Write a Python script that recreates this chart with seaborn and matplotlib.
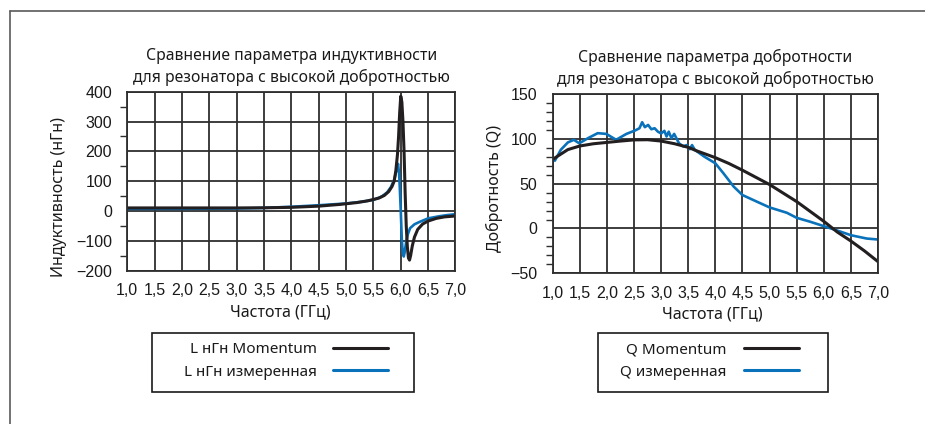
import numpy as np
import pandas as pd
import seaborn as sns
import matplotlib
matplotlib.use("Agg")
import matplotlib.pyplot as plt
from matplotlib.lines import Line2D
from matplotlib.patches import Rectangle
from matplotlib.ticker import MultipleLocator

# ---- inductance (nH) vs frequency (GHz) ----
l_mom_f = [1.0, 1.5, 2.0, 2.5, 3.0, 3.5, 4.0, 4.5, 4.9, 5.2, 5.4, 5.6, 5.7, 5.78,
           5.84, 5.88, 5.91, 5.94, 5.96, 5.98, 6.00, 6.02, 6.04, 6.06, 6.08, 6.10,
           6.12, 6.14, 6.16, 6.18, 6.21, 6.25, 6.31, 6.40, 6.50, 6.65, 6.80, 7.0]
l_mom_v = [10, 10, 10, 10, 10, 10.5, 12, 16, 22, 28, 34, 43, 52, 65,
           82, 100, 135, 190, 250, 330, 385, 365, 300, 200, 60, -50,
           -120, -158, -165, -150, -118, -88, -62, -44, -34, -25, -20, -17]

l_meas_f = [1.0, 2.0, 3.0, 3.5, 4.0, 4.5, 5.0, 5.3, 5.5, 5.65, 5.75, 5.82, 5.88,
            5.92, 5.95, 5.97, 5.98, 6.00, 6.02, 6.04, 6.055, 6.07, 6.10, 6.13,
            6.17, 6.25, 6.33, 6.50, 6.70, 6.85, 7.0]
l_meas_v = [7, 7, 8, 10, 14, 19, 25, 31, 37, 48, 62, 80, 105,
            135, 158, 125, 87, 0, -100, -145, -153, -140, -103, -78,
            -58, -45, -38, -25, -18, -14, -11]

# ---- quality factor Q vs frequency (GHz) ----
q_mom_f = [1.0, 1.1, 1.28, 1.5, 1.75, 2.0, 2.25, 2.5, 2.75, 3.0, 3.25, 3.5, 3.66,
           4.0, 4.25, 4.5, 4.75, 5.0, 5.25, 5.5, 5.75, 6.0, 6.25, 6.5, 6.75, 7.0]
q_mom_v = [77, 81, 88, 92, 94.5, 96, 97.5, 98.8, 99, 97.5, 94.5, 90.5, 86.5,
           79, 72.5, 65, 57, 49, 39.5, 30, 19, 8, -4, -14, -25, -37]

q_meas_f = [1.0, 1.04, 1.15, 1.28, 1.39, 1.49, 1.65, 1.83, 1.99, 2.17, 2.36, 2.52,
            2.6, 2.65, 2.70, 2.76, 2.82, 2.88, 2.94, 3.0, 3.06, 3.1, 3.14, 3.19,
            3.24, 3.33, 3.41, 3.47, 3.53, 3.57, 3.62, 3.66, 3.8, 4.0, 4.15, 4.34,
            4.5, 4.77, 5.0, 5.32, 5.5, 5.75, 6.0, 6.23, 6.5, 6.79, 7.0]
q_meas_v = [80, 75.6, 87.8, 96, 98.9, 95, 100.7, 106.3, 105.5, 98.9, 105.5, 109.3,
            111.8, 118.5, 113, 115.5, 110.7, 111.8, 108, 106, 108.9, 102.6, 108, 100.7,
            105.5, 95, 91.5, 93, 88.5, 93, 87.8, 86, 80, 72.7, 61.5, 46.6,
            37.3, 29.8, 23.5, 17.5, 11.9, 7.5, 2.6, -1.9, -7.5, -11.2, -12.3]

x_ticks = [1.0, 1.5, 2.0, 2.5, 3.0, 3.5, 4.0, 4.5, 5.0, 5.5, 6.0, 6.5, 7.0]
x_ticklabels = ["1,0", "1,5", "2,0", "2,5", "3,0", "3,5", "4,0", "4,5",
                "5,0", "5,5", "6,0", "6,5", "7,0"]

title_l = "Сравнение параметра индуктивности\nдля резонатора с высокой добротностью"
title_q = "Сравнение параметра добротности\nдля резонатора с высокой добротностью"
xlabel = "Частота (ГГц)"
ylabel_l = "Индуктивность (нГн)"
ylabel_q = "Добротность (Q)"
leg_l = ["L нГн Momentum", "L нГн измеренная"]
leg_q = ["Q Momentum", "Q измеренная"]

BLACK = "#231f20"
BLUE = "#0a72ba"
GRID = "#2e2e2e"
TEXT = "#1a1a1a"

sns.set_theme(style="white")
plt.rcParams["font.family"] = ["Noto Sans", "DejaVu Sans"]
TICK_FONT = ["Liberation Sans", "DejaVu Sans"]

W, H = 925, 424
fig = plt.figure(figsize=(W / 100, H / 100), dpi=100)
ax1 = fig.add_axes([0.1376, 0.362, 0.3548, 0.4217])
ax2 = fig.add_axes([0.5975, 0.3554, 0.3517, 0.4229])

df_l = pd.concat([
    pd.DataFrame({"f": l_mom_f, "v": l_mom_v, "s": leg_l[0]}),
    pd.DataFrame({"f": l_meas_f, "v": l_meas_v, "s": leg_l[1]}),
])
df_q = pd.concat([
    pd.DataFrame({"f": q_mom_f, "v": q_mom_v, "s": leg_q[0]}),
    pd.DataFrame({"f": q_meas_f, "v": q_meas_v, "s": leg_q[1]}),
])

# measured curve under, simulated curve on top
for ax, df, labels in ((ax1, df_l, leg_l), (ax2, df_q, leg_q)):
    sns.lineplot(data=df[df.s == labels[1]], x="f", y="v", ax=ax, color=BLUE,
                 lw=1.9, estimator=None, sort=False, label=labels[1])
    sns.lineplot(data=df[df.s == labels[0]], x="f", y="v", ax=ax, color=BLACK,
                 lw=2.2, estimator=None, sort=False, label=labels[0])

def style_axes(ax, ylim, ymajor, yminor, title, ylabel, xlab_xy, ylab_xy):
    ax.set_xlim(1.0, 7.0)
    ax.set_ylim(*ylim)
    ax.set_xticks(x_ticks)
    ax.set_xticklabels(x_ticklabels)
    ax.yaxis.set_major_locator(MultipleLocator(ymajor))
    ax.yaxis.set_minor_locator(MultipleLocator(yminor))
    ax.grid(True, which="major", color=GRID, lw=1.3)
    ax.set_axisbelow(True)
    for s in ax.spines.values():
        s.set_color(GRID)
        s.set_linewidth(1.3)
    ax.tick_params(axis="both", which="major", direction="out", length=6,
                   width=1.2, color=GRID, pad=3, labelsize=11.5, labelcolor=TEXT)
    ax.tick_params(axis="y", which="major", length=8)
    ax.tick_params(axis="y", which="minor", direction="out", length=5,
                   width=1.0, color=GRID, left=True)
    for lab in ax.get_xticklabels() + ax.get_yticklabels():
        lab.set_family(TICK_FONT)
    ax.set_title(title, fontsize=11.3, color=TEXT, pad=7, linespacing=1.4)
    ax.set_xlabel(xlabel, fontsize=11.5, color=TEXT)
    ax.set_ylabel(ylabel, fontsize=11.5, color=TEXT)
    ax.xaxis.set_label_coords(*xlab_xy)
    ax.yaxis.set_label_coords(*ylab_xy)

style_axes(ax1, (-200, 400), 100, 50, title_l, ylabel_l, (0.466, -0.19), (-0.184, 0.41))
style_axes(ax2, (-50, 150), 50, 10, title_q, ylabel_q, (0.49, -0.182), (-0.153, 0.476))

def add_legend(ax, labels, center, box):
    handles = [Line2D([], [], color=BLACK, lw=2.2), Line2D([], [], color=BLUE, lw=2.2)]
    leg = ax.legend(handles, labels, loc="center",
                    bbox_to_anchor=(center[0] / W, 1 - center[1] / H),
                    bbox_transform=fig.transFigure, markerfirst=False,
                    frameon=False, fontsize=11,
                    handlelength=3.6, handletextpad=1.1, borderpad=0,
                    labelspacing=0.5, borderaxespad=0)
    for t in leg.get_texts():
        t.set_color(TEXT)
    x0, y0, x1, y1 = box
    fig.add_artist(Rectangle((x0 / W, 1 - y1 / H), (x1 - x0) / W, (y1 - y0) / H,
                             transform=fig.transFigure, fill=False,
                             edgecolor=TEXT, lw=1.2))
    return leg

add_legend(ax1, leg_l, (286, 361), (152, 333, 414, 392))
add_legend(ax2, leg_q, (709.5, 361), (598, 333, 828, 392))

# outer frame (left and top edges)
fig.add_artist(Line2D([10 / W, 10 / W], [0, 1 - 10.5 / H], color="#5a5a5a",
                      lw=1.2, transform=fig.transFigure))
fig.add_artist(Line2D([10 / W, 1], [1 - 10.5 / H, 1 - 10.5 / H], color="#5a5a5a",
                      lw=1.2, transform=fig.transFigure))

fig.savefig("out.png", dpi=100, facecolor="white")
